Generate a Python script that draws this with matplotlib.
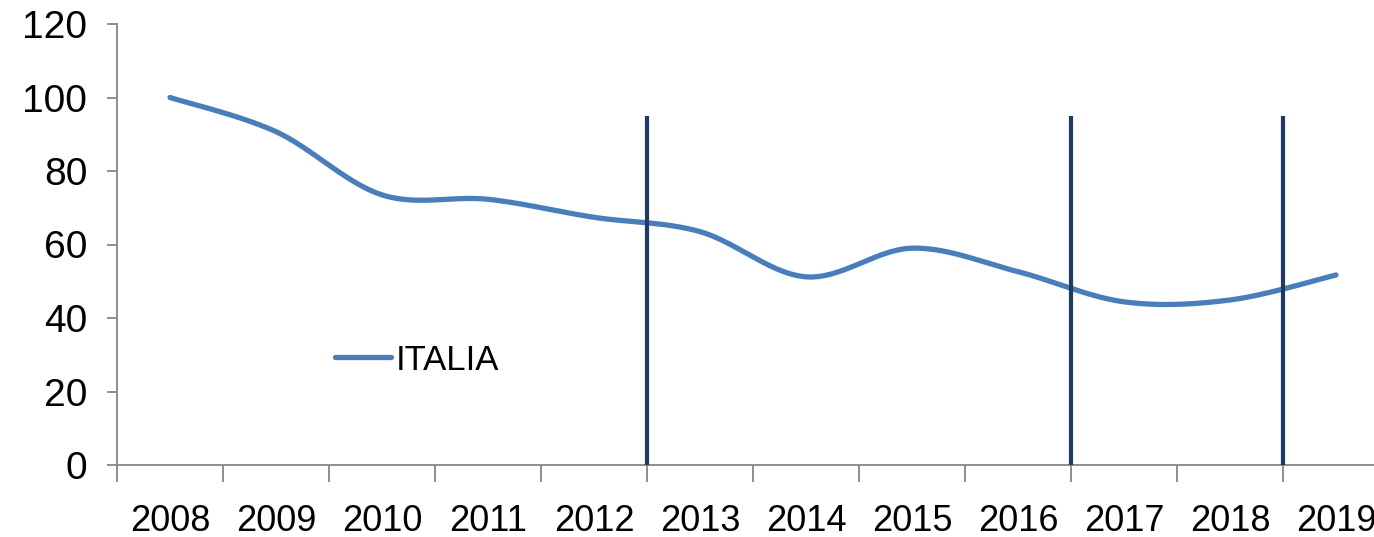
import numpy as np
import matplotlib
matplotlib.use("Agg")
import matplotlib.pyplot as plt
from matplotlib.ticker import FixedLocator

plt.rcParams['font.family'] = ['Liberation Sans', 'DejaVu Sans']

years = ['2008', '2009', '2010', '2011', '2012', '2013', '2014', '2015',
         '2016', '2017', '2018', '2019']
italia = [100, 90.7, 73.5, 72.3, 67.4, 63.5, 51.2, 59.0, 52.6, 44.4, 44.9, 51.7]
divider_after = ['2012', '2016', '2018']
divider_top = 95
series_name = 'ITALIA'
y_ticks = [0, 20, 40, 60, 80, 100, 120]


def excel_smooth(x, y, n=40):
    x = np.asarray(x, float)
    y = np.asarray(y, float)
    px = np.concatenate([[x[0]], x, [x[-1]]])
    py = np.concatenate([[y[0]], y, [y[-1]]])
    xs, ys = [], []
    t = np.linspace(0, 1, n)
    for i in range(1, len(px) - 2):
        p0 = np.array([px[i], py[i]])
        p3 = np.array([px[i + 1], py[i + 1]])
        p1 = p0 + (p3 - np.array([px[i - 1], py[i - 1]])) / 6
        p2 = p3 - (np.array([px[i + 2], py[i + 2]]) - p0) / 6
        b = ((1 - t) ** 3)[:, None] * p0 + (3 * (1 - t) ** 2 * t)[:, None] * p1 \
            + (3 * (1 - t) * t ** 2)[:, None] * p2 + (t ** 3)[:, None] * p3
        xs.extend(b[:, 0])
        ys.extend(b[:, 1])
    return np.array(xs), np.array(ys)


W, H = 1374, 537
fig = plt.figure(figsize=(W / 100, H / 100), dpi=100)
ax = fig.add_axes([117 / W, (H - 465) / H, 1272 / W, 441 / H])

xi = np.arange(len(years))
sx, sy = excel_smooth(xi, italia)
line, = ax.plot(sx, sy, color='#4A7EBB', lw=3.8, solid_capstyle='round',
                label=series_name, zorder=2)

div_x = [years.index(y) + 0.5 for y in divider_after]
ax.vlines(div_x, 0, divider_top, color='#1F3864', lw=3.0, zorder=3)

ax.set_xlim(-0.5, len(years) - 0.5)
ax.set_ylim(0, 120)

for s in ['top', 'right']:
    ax.spines[s].set_visible(False)
for s in ['left', 'bottom']:
    ax.spines[s].set_color('#868686')
    ax.spines[s].set_linewidth(1.3)

ax.set_yticks(y_ticks)
ax.set_yticklabels([str(v) for v in y_ticks])
ax.tick_params(axis='y', direction='out', length=7.5, width=1.3,
               color='#868686', labelsize=28, pad=14)

ax.set_xticks(xi)
ax.set_xticklabels(years)
ax.xaxis.set_minor_locator(FixedLocator(np.arange(-0.5, len(years), 1.0)))
ax.tick_params(axis='x', which='major', length=0, labelsize=26, pad=28)
ax.tick_params(axis='x', which='minor', direction='out', length=12,
               width=1.3, color='#868686')

leg = ax.legend(handles=[line], loc='center left', frameon=False,
                fontsize=25, handlelength=1.6, handletextpad=0.15,
                borderpad=0, borderaxespad=0,
                bbox_to_anchor=(335 / W, (H - 360) / H),
                bbox_transform=fig.transFigure)

fig.savefig('out.png', dpi=100)
